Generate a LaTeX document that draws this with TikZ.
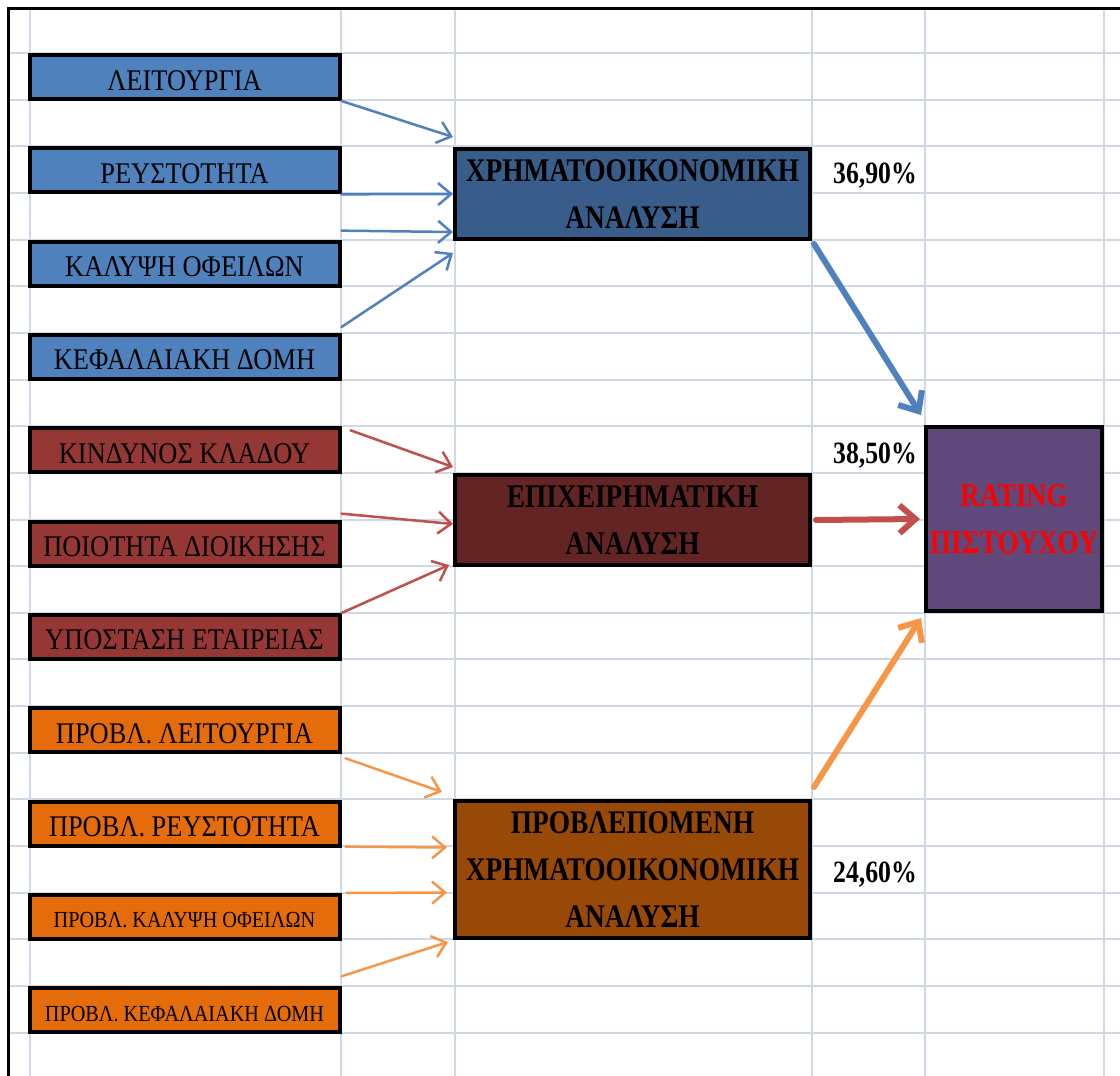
\documentclass[tikz,border=0pt]{standalone}
\usepackage{fontspec}
\setmainfont{Liberation Serif}[FakeStretch=0.88,BoldFeatures={FakeStretch=0.83}]
\usetikzlibrary{arrows.meta}
\definecolor{gridc}{HTML}{D0D7E5}
\definecolor{inblue}{HTML}{4F81BD}
\definecolor{inred}{HTML}{953735}
\definecolor{inorange}{HTML}{E46C0A}
\definecolor{finblue}{HTML}{385D8A}
\definecolor{epired}{HTML}{632523}
\definecolor{probbrown}{HTML}{984807}
\definecolor{ratpurple}{HTML}{5F497A}
\definecolor{arrblue}{HTML}{4F81BD}
\definecolor{arrred}{HTML}{C0504D}
\definecolor{arrorange}{HTML}{F79646}
\begin{document}
\begin{tikzpicture}[x=1pt,y=-1pt,
    gridline/.style={gridc, line width=2pt},
    inbox/.style={draw=black, line width=4pt, minimum width=310pt, minimum height=44pt,
        inner sep=0pt, text height=26pt, text depth=0pt, font=\fontsize{30}{36}\selectfont},
    insmall/.style={inbox, text height=22pt, font=\fontsize{23}{28}\selectfont},
    mainbox/.style={draw=black, line width=4pt, minimum width=355pt, inner sep=0pt,
        align=center, font=\bfseries\fontsize{33}{46.7}\selectfont},
    pct/.style={anchor=base, font=\bfseries\fontsize{31}{36}\selectfont},
    thinarr/.style={-{Straight Barb[length=13pt,width=22pt]}, line width=2.5pt, line cap=round},
    bigarr/.style={-{Straight Barb[length=16pt,width=28pt]}, line width=6pt, line cap=round}]
    \useasboundingbox (0,0) rectangle (1120,1076);
    \fill[white] (0,0) rectangle (1120,1076);
    \foreach \k in {0,...,21} {
            \draw[gridline] (8,{53+46.65*\k}) -- (1120,{53+46.65*\k});
        }
    \foreach \x in {30,341,455,812,925,1104} {
            \draw[gridline] (\x,8) -- (\x,1076);
        }
    \draw[black, line width=3pt] (8,1076) -- (8,8) -- (1120,8);

    \foreach \nm/\row/\st/\fillc/\txt in {
            leit/0/inbox/inblue/ΛΕΙΤΟΥΡΓΙΑ,
            reus/1/inbox/inblue/ΡΕΥΣΤΟΤΗΤΑ,
            kal/2/inbox/inblue/ΚΑΛΥΨΗ ΟΦΕΙΛΩΝ,
            kef/3/inbox/inblue/ΚΕΦΑΛΑΙΑΚΗ ΔΟΜΗ,
            kin/4/inbox/inred/ΚΙΝΔΥΝΟΣ ΚΛΑΔΟΥ,
            poi/5/inbox/inred/ΠΟΙΟΤΗΤΑ ΔΙΟΙΚΗΣΗΣ,
            ypo/6/inbox/inred/ΥΠΟΣΤΑΣΗ ΕΤΑΙΡΕΙΑΣ,
            pleit/7/inbox/inorange/ΠΡΟΒΛ. ΛΕΙΤΟΥΡΓΙΑ,
            preus/8/inbox/inorange/ΠΡΟΒΛ. ΡΕΥΣΤΟΤΗΤΑ,
            pkal/9/insmall/inorange/ΠΡΟΒΛ. ΚΑΛΥΨΗ ΟΦΕΙΛΩΝ,
            pkef/10/insmall/inorange/ΠΡΟΒΛ. ΚΕΦΑΛΑΙΑΚΗ ΔΟΜΗ} {
            \node[\st, fill=\fillc] (\nm) at (184.5,{77+93.33*\row}) {\txt};
        }

    \node[mainbox, fill=finblue, minimum height=90pt] (fin) at (632.5,194) {ΧΡΗΜΑΤΟΟΙΚΟΝΟΜΙΚΗ\\ΑΝΑΛΥΣΗ};
    \node[mainbox, fill=epired, minimum height=90pt] (epi) at (632.5,520) {ΕΠΙΧΕΙΡΗΜΑΤΙΚΗ\\ΑΝΑΛΥΣΗ};
    \node[mainbox, fill=probbrown, minimum height=137pt] (prob) at (632.5,869.5) {ΠΡΟΒΛΕΠΟΜΕΝΗ\\ΧΡΗΜΑΤΟΟΙΚΟΝΟΜΙΚΗ\\ΑΝΑΛΥΣΗ};
    \node[mainbox, fill=ratpurple, minimum width=176pt, minimum height=184pt, text=red] (rating) at (1014,519) {RATING\\ΠΙΣΤΟΥΧΟΥ};

    \node[pct] (pfin) at (875,183) {36,90\%};
    \node[pct] (pepi) at (875,463) {38,50\%};
    \node[pct] (pprob) at (875,882) {24,60\%};

    \draw[thinarr, arrblue] (leit.south east) -- ([yshift=10pt]fin.north west);
    \draw[thinarr, arrblue] (reus.south east) -- (fin.west);
    \draw[thinarr, arrblue] ([yshift=9pt]kal.north east) -- ([yshift=9pt]fin.south west);
    \draw[thinarr, arrblue] ([yshift=6pt]kef.north east) -- ([yshift=-12pt]fin.south west);

    \draw[thinarr, arrred] ([xshift=9pt,yshift=-4pt]kin.north east) -- ([yshift=6pt]epi.north west);
    \draw[thinarr, arrred] ([yshift=6pt]poi.north east) -- ([yshift=-4pt]epi.west);
    \draw[thinarr, arrred] (ypo.north east) -- ([xshift=-4pt,yshift=2pt]epi.south west);

    \draw[thinarr, arrorange] ([xshift=4pt,yshift=-4pt]pleit.south east) -- ([xshift=-11pt,yshift=7pt]prob.north west);
    \draw[thinarr, arrorange] ([xshift=4pt,yshift=1pt]preus.south east) -- ([xshift=-6pt,yshift=22pt]prob.west);
    \draw[thinarr, arrorange] ([xshift=5pt]pkal.north east) -- ([xshift=-6pt,yshift=-23pt]prob.west);
    \draw[thinarr, arrorange] ([yshift=10pt]pkef.north east) -- ([xshift=-5pt,yshift=-2pt]prob.south west);

    \draw[bigarr, arrblue] ([xshift=2pt,yshift=-3pt]fin.south east) -- ([xshift=-3pt,yshift=10pt]rating.north west);
    \draw[bigarr, arrred] ([xshift=4pt]epi.east) -- ([xshift=-4pt]rating.west);
    \draw[bigarr, arrorange] ([xshift=2pt,yshift=12pt]prob.north east) -- ([xshift=-3pt,yshift=-5pt]rating.south west);
\end{tikzpicture}
\end{document}
